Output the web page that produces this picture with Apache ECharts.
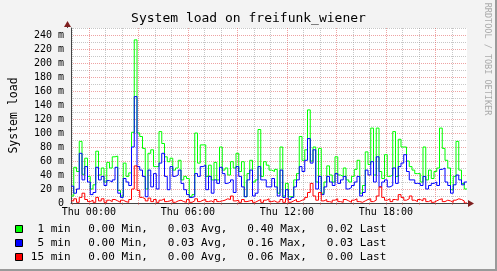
<!DOCTYPE html>
<html><head><meta charset="utf-8">
<script src="https://cdn.jsdelivr.net/npm/echarts@6/dist/echarts.min.js"></script>
<style>html,body{margin:0;padding:0;background:#f3f3f3}#c{width:497px;height:271px}</style>
</head><body><div id="c"></div><script>
// time axis: minutes relative to Thu 00:00
const startMinute = -65;
const stepMinutes = 10;
const axisMinMinute = -65;
const axisMaxMinute = 1375;

// load values in milli-units (m)
const load1 = [10,51,45,88,41,64,38,20,26,74,40,50,30,58,50,66,67,18,10,57,38,43,101,233,100,95,78,20,71,76,52,52,102,85,66,59,64,47,50,61,33,38,35,9,12,100,57,83,83,38,54,33,58,33,80,47,50,40,59,50,71,45,59,9,42,61,30,33,105,38,59,54,47,45,48,14,80,10,28,9,9,33,42,95,61,76,133,60,80,30,78,14,30,53,40,30,66,40,38,50,33,30,38,48,61,14,25,73,55,107,40,107,45,35,69,38,40,102,38,91,80,80,60,52,47,42,42,30,80,33,47,35,45,50,107,78,61,50,19,38,88,47,28,20];
const load5 = [24,14,20,71,33,52,30,12,15,51,33,38,25,32,30,33,51,14,8,35,30,25,80,152,52,47,38,9,47,23,42,20,57,71,38,19,52,38,40,47,28,19,12,8,9,42,38,52,54,19,38,14,33,28,51,42,28,30,33,15,52,38,23,9,33,47,10,14,52,33,33,23,23,35,23,10,47,8,19,5,8,23,33,52,45,61,92,57,76,20,38,12,23,38,30,25,42,28,33,38,20,22,25,30,38,10,15,47,40,59,30,66,23,30,33,23,25,50,28,52,57,69,45,33,33,28,28,25,38,20,25,28,30,25,48,50,30,25,14,26,40,33,26,30];
const load15 = [3,6,1,8,14,5,2,4,1,8,3,6,1,4,2,5,3,1,4,2,1,5,20,53,18,8,6,3,7,2,5,1,4,6,2,3,5,1,3,4,2,1,5,1,3,6,2,4,5,2,3,1,5,2,3,4,6,5,10,3,4,1,5,2,3,4,1,3,5,1,4,6,2,3,1,2,5,1,6,1,3,5,2,4,5,8,15,28,10,4,15,3,5,2,1,4,6,2,1,5,3,1,4,6,2,1,3,5,6,2,4,10,23,8,4,6,2,5,4,12,8,4,6,10,4,2,5,3,6,2,4,1,3,5,6,2,4,3,1,4,6,5,3,0];

const seriesNames = ['1 min', '5 min', '15 min'];
const seriesColors = ['#00ff00', '#0000ff', '#ff0000'];
const statMin = ['0.00', '0.00', '0.00'];
const statAvg = ['0.03', '0.03', '0.00'];
const statMax = ['0.40', '0.16', '0.06'];
const statLast = ['0.02', '0.03', '0.00'];

const hourTicks = [-60,0,60,120,180,240,300,360,420,480,540,600,660,720,780,840,900,960,1020,1080,1140,1200,1260,1320];
const xLabelValues = [0, 360, 720, 1080];
const xLabels = ['Thu 00:00', 'Thu 06:00', 'Thu 12:00', 'Thu 18:00'];
const yLabelEvery = 20;

const titleText = 'System load on freifunk_wiener';
const yAxisTitle = 'System load';
const sideText = 'RRDTOOL / TOBI OETIKER';

const MONO = "'DejaVu Sans Mono', monospace";
const GRIDC = 'rgba(143,143,143,0.5)';
const MGRIDC = 'rgba(222,72,72,0.5)';

function toPairs(vals) {
  const out = vals.map((v, i) => [startMinute + i * stepMinutes, v]);
  out.push([startMinute + vals.length * stepMinutes, vals[vals.length - 1]]);
  return out;
}
const allLoads = [load1, load5, load15];

const chart = echarts.init(document.getElementById('c'), null, {renderer: 'canvas'});

const graphics = [
  {type: 'polyline', shape: {points: [[0, 270], [496, 270], [496, 0]]}, style: {stroke: '#9a9a9a', lineWidth: 2, fill: null}, silent: true},
  {type: 'polygon', shape: {points: [[64, 27], [71, 27], [67.5, 21]]}, style: {fill: '#7f1f1f'}},
  {type: 'line', shape: {x1: 67.5, y1: 27, x2: 67.5, y2: 28}, style: {stroke: '#444', lineWidth: 1}},
  {type: 'line', shape: {x1: 467, y1: 203.5, x2: 469, y2: 203.5}, style: {stroke: '#444', lineWidth: 1}},
  {type: 'polygon', shape: {points: [[468, 200], [468, 207], [474, 203.5]]}, style: {fill: '#7f1f1f'}},
  {type: 'text', x: 487, y: 59, rotation: -Math.PI / 2,
   style: {text: sideText, font: '8.5px ' + MONO, fill: '#aaaaaa', align: 'center', verticalAlign: 'middle'}}
];
const rowY = [229, 243, 257];
for (let k = 0; k < 3; k++) {
  graphics.push({type: 'rect', shape: {x: 15.5, y: rowY[k] - 3.5, width: 7, height: 7},
    style: {fill: seriesColors[k], stroke: '#000', lineWidth: 1}});
  graphics.push({type: 'text', x: 70.6, y: rowY[k],
    style: {text: seriesNames[k], font: '11px ' + MONO, fill: '#000', align: 'right', verticalAlign: 'middle'}});
  graphics.push({type: 'text', x: 88.3, y: rowY[k],
    style: {text: statMin[k] + ' Min,   ' + statAvg[k] + ' Avg,   ' + statMax[k] + ' Max,   ' + statLast[k] + ' Last',
      font: '11px ' + MONO, fill: '#000', align: 'left', verticalAlign: 'middle'}});
}

chart.setOption({
  animation: false,
  backgroundColor: '#f3f3f3',
  title: {text: titleText, left: 'center', top: 12, padding: 0,
    textStyle: {fontFamily: MONO, fontSize: 13, fontWeight: 'normal', color: '#000'}},
  grid: {left: 67, top: 28, width: 400, height: 175, show: true, backgroundColor: '#ffffff', borderWidth: 0},
  xAxis: {
    type: 'value', min: axisMinMinute, max: axisMaxMinute,
    axisLine: {show: true, onZero: false, lineStyle: {color: '#444', width: 1}},
    axisTick: {show: true, customValues: hourTicks, length: 2, lineStyle: {color: MGRIDC}},
    axisLabel: {customValues: xLabelValues, margin: 4, fontFamily: MONO, fontSize: 10, color: '#000',
      formatter: v => xLabels[xLabelValues.indexOf(v)] || ''},
    splitLine: {show: true, lineStyle: {color: [GRIDC, MGRIDC, GRIDC], type: [1, 1], width: 1}}
  },
  yAxis: {
    type: 'value', min: 0, max: 250, interval: 10,
    name: yAxisTitle, nameLocation: 'middle', nameRotate: 90, nameGap: 51,
    nameTextStyle: {fontFamily: MONO, fontSize: 11.5, color: '#000'},
    axisLine: {show: true, onZero: false, lineStyle: {color: '#444', width: 1}},
    axisTick: {show: false},
    axisLabel: {margin: 7, fontFamily: MONO, fontSize: 10, color: '#000',
      formatter: v => (v % yLabelEvery === 0 && v < 250) ? (v === 0 ? '0' : v + ' m') : ''},
    splitLine: {show: true, lineStyle: {color: [MGRIDC, GRIDC], type: [1, 1], width: 1}}
  },
  series: allLoads.map((vals, k) => ({
    type: 'line', name: seriesNames[k], data: toPairs(vals), step: 'end',
    symbol: 'none', lineStyle: {color: seriesColors[k], width: 1}, itemStyle: {color: seriesColors[k]},
    clip: true, z: 3 + k
  })),
  graphic: graphics
});
</script></body></html>
